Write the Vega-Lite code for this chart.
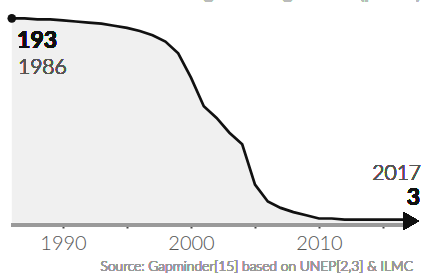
{
  "$schema": "https://vega.github.io/schema/vega-lite/v6.json",
  "width": 425,
  "height": 276,
  "autosize": "none",
  "padding": 0,
  "background": "white",
  "config": {"view": {"stroke": null}, "font": "Lato"},
  "data": {"values": [
    {"year": 1986, "countries": 193}, {"year": 1987, "countries": 193}, {"year": 1988, "countries": 192},
    {"year": 1989, "countries": 192}, {"year": 1990, "countries": 191}, {"year": 1991, "countries": 190},
    {"year": 1992, "countries": 189}, {"year": 1993, "countries": 188}, {"year": 1994, "countries": 186},
    {"year": 1995, "countries": 184}, {"year": 1996, "countries": 181}, {"year": 1997, "countries": 177},
    {"year": 1998, "countries": 171}, {"year": 1999, "countries": 160}, {"year": 2000, "countries": 137},
    {"year": 2001, "countries": 110}, {"year": 2002, "countries": 99}, {"year": 2003, "countries": 85},
    {"year": 2004, "countries": 74}, {"year": 2005, "countries": 36}, {"year": 2006, "countries": 20},
    {"year": 2007, "countries": 14}, {"year": 2008, "countries": 10}, {"year": 2009, "countries": 7},
    {"year": 2010, "countries": 4}, {"year": 2011, "countries": 4}, {"year": 2012, "countries": 3},
    {"year": 2013, "countries": 3}, {"year": 2014, "countries": 3}, {"year": 2015, "countries": 3},
    {"year": 2016, "countries": 3}, {"year": 2017, "countries": 3}
  ]},
  "encoding": {
    "x": {"field": "year", "type": "quantitative",
      "scale": {"domain": [1985.078, 2018.281], "nice": false, "zero": false},
      "axis": {"title": null, "domain": false, "grid": false, "offset": -51,
        "values": [1990, 1995, 2000, 2005, 2010, 2015], "format": "d",
        "labelExpr": "datum.value % 10 == 0 ? datum.label : ''",
        "tickColor": "#444", "tickSize": 3, "tickWidth": 2,
        "labelFontSize": 20, "labelColor": "#555", "labelPadding": 5, "labelFont": "Lato", "labelFontWeight": 300}},
    "y": {"field": "countries", "type": "quantitative",
      "scale": {"domain": [-50.3, 210.3], "nice": false, "zero": false}, "axis": null}
  },
  "layer": [
    {"mark": {"type": "area", "color": "#f0f0f0"}, "encoding": {"y2": {"datum": 0}}},
    {"mark": {"type": "rule", "color": "#9a9a9a", "strokeWidth": 3},
      "encoding": {"x": {"datum": 1986}, "x2": {"datum": 2017}, "y": {"datum": -2.2}}},
    {"mark": {"type": "line", "color": "#111", "strokeWidth": 2.7}},
    {"transform": [{"filter": "datum.year == 1986"}],
      "mark": {"type": "point", "filled": true, "color": "#111", "size": 75, "opacity": 1}},
    {"mark": {"type": "point", "shape": "triangle-right", "filled": true, "color": "#111", "size": 324, "opacity": 1},
      "encoding": {"x": {"datum": 2017.19}, "y": {"datum": 1.6}}},
    {"mark": {"type": "text", "text": "193", "align": "left", "baseline": "alphabetic", "fontSize": 23, "fontWeight": "bold", "color": "#111"},
      "encoding": {"x": {"datum": 1986.41}, "y": {"datum": 165.0}}},
    {"mark": {"type": "text", "text": "1986", "align": "left", "baseline": "alphabetic", "fontSize": 21, "fontWeight": 300, "color": "#555"},
      "encoding": {"x": {"datum": 1986.48}, "y": {"datum": 140.4}}},
    {"mark": {"type": "text", "text": "2017", "align": "right", "baseline": "alphabetic", "fontSize": 21, "fontWeight": 300, "color": "#555"},
      "encoding": {"x": {"datum": 2017.97}, "y": {"datum": 40.5}}},
    {"mark": {"type": "text", "text": "3", "align": "right", "baseline": "alphabetic", "fontSize": 23, "fontWeight": "bold", "color": "#111"},
      "encoding": {"x": {"datum": 2017.89}, "y": {"datum": 16.7}}},
    {"mark": {"type": "text", "text": "Source: Gapminder[15] based on UNEP[2,3] & ILMC", "align": "right", "baseline": "alphabetic", "fontSize": 13.8, "fontWeight": 300, "color": "#999"},
      "encoding": {"x": {"datum": 2017.34}, "y": {"datum": -45.6}}},
    {"mark": {"type": "text", "text": "Countries using leaded gasoline (petrol)", "align": "right", "baseline": "alphabetic", "fontSize": 20, "color": "#bbb"},
      "encoding": {"x": {"datum": 2018.0}, "y": {"datum": 211.5}}}
  ]
}
